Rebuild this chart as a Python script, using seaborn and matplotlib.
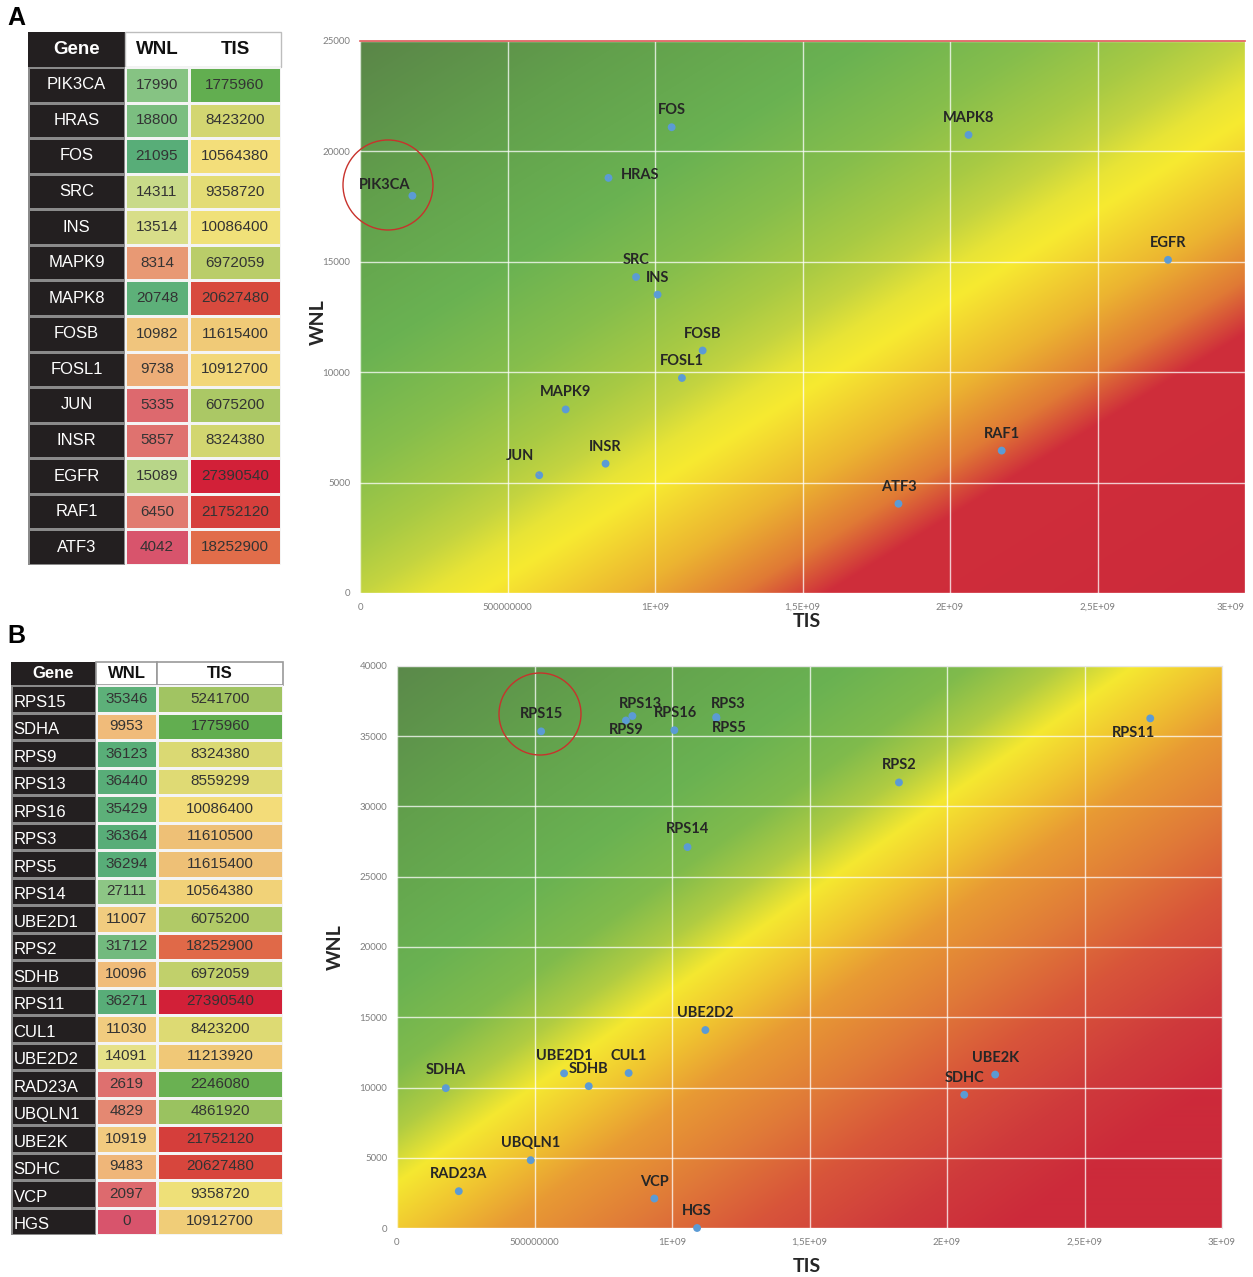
import numpy as np
import pandas as pd
import matplotlib
matplotlib.use("Agg")
import matplotlib.pyplot as plt
import matplotlib.colors as mcolors
from matplotlib.colors import LinearSegmentedColormap, TwoSlopeNorm, ListedColormap
from matplotlib.patches import Ellipse, Rectangle
import seaborn as sns

# ---------------- data ----------------
genes_a = ["PIK3CA", "HRAS", "FOS", "SRC", "INS", "MAPK9", "MAPK8", "FOSB",
           "FOSL1", "JUN", "INSR", "EGFR", "RAF1", "ATF3"]
wnl_a = [17990, 18800, 21095, 14311, 13514, 8314, 20748, 10982, 9738, 5335,
         5857, 15089, 6450, 4042]
tis_a = [1775960, 8423200, 10564380, 9358720, 10086400, 6972059, 20627480,
         11615400, 10912700, 6075200, 8324380, 27390540, 21752120, 18252900]

genes_b = ["RPS15", "SDHA", "RPS9", "RPS13", "RPS16", "RPS3", "RPS5", "RPS14",
           "UBE2D1", "RPS2", "SDHB", "RPS11", "CUL1", "UBE2D2", "RAD23A",
           "UBQLN1", "UBE2K", "SDHC", "VCP", "HGS"]
wnl_b = [35346, 9953, 36123, 36440, 35429, 36364, 36294, 27111, 11007, 31712,
         10096, 36271, 11030, 14091, 2619, 4829, 10919, 9483, 2097, 0]
tis_b = [5241700, 1775960, 8324380, 8559299, 10086400, 11610500, 11615400,
         10564380, 6075200, 18252900, 6972059, 27390540, 8423200, 11213920,
         2246080, 4861920, 21752120, 20627480, 9358720, 10912700]

TIS_AXIS_FACTOR = 100  # scatter x-axis shows TIS x 100

x_ticks = [0, 5e8, 1e9, 1.5e9, 2e9, 2.5e9, 3e9]
x_tick_labels = ["0", "500000000", "1E+09", "1,5E+09", "2E+09", "2,5E+09", "3E+09"]
y_ticks_a = [0, 5000, 10000, 15000, 20000, 25000]
y_ticks_b = [0, 5000, 10000, 15000, 20000, 25000, 30000, 35000, 40000]

# ---------------- styles / positions ----------------
plt.rcParams["font.family"] = ["Liberation Sans", "DejaVu Sans"]
W, H = 1253, 1277
fig = plt.figure(figsize=(W / 100, H / 100), dpi=100)


def fig_axes(left, top, right, bottom):
    return fig.add_axes([left / W, 1 - bottom / H, (right - left) / W, (bottom - top) / H])


wnl_cmap = LinearSegmentedColormap.from_list("wnl", [
    (0.0, "#d8546c"), (0.2, "#e48a72"), (0.40, "#f0bc7a"), (0.5, "#f2e488"),
    (0.72, "#a3d18a"), (1.0, "#58ad78")])
tis_cmap = LinearSegmentedColormap.from_list("tis", [
    (0.0, "#62ae50"), (0.5, "#f4e27a"), (0.555, "#eebf76"), (0.74, "#e06a48"),
    (0.82, "#d6423c"), (1.0, "#d22038")])


def draw_table(genes, wnl, tis, cols, top, hbot, bottom, gene_fs, val_fs, head_fs,
               left_align, head_split):
    n = len(genes)
    df = pd.DataFrame({"Gene": genes, "WNL": wnl, "TIS": tis})
    # header
    hax = fig_axes(cols[0], top, cols[3], hbot)
    hax.set_xlim(cols[0], cols[3])
    hax.set_ylim(hbot, top)
    hax.axis("off")
    hax.add_patch(Rectangle((cols[0], top), cols[1] - cols[0], hbot - top,
                            facecolor="#231f20", edgecolor="#231f20", lw=0))
    if head_split:
        for a, b in [(cols[1], cols[2]), (cols[2], cols[3])]:
            hax.add_patch(Rectangle((a, top), b - a, hbot - top, facecolor="white",
                                    edgecolor="#9a9a9a", lw=1.2, clip_on=False))
    else:
        hax.add_patch(Rectangle((cols[1], top), cols[3] - cols[1], hbot - top,
                                facecolor="white", edgecolor="#bdbdbd", lw=1, clip_on=False))
    yc = (top + hbot) / 2
    hax.text((cols[0] + cols[1]) / 2, yc, "Gene", color="white", fontweight="bold",
             fontsize=head_fs, ha="center", va="center")
    hax.text((cols[1] + cols[2]) / 2, yc, "WNL", color="#111111", fontweight="bold",
             fontsize=head_fs, ha="center", va="center")
    hax.text((cols[2] + cols[3]) / 2, yc, "TIS", color="#111111", fontweight="bold",
             fontsize=head_fs, ha="center", va="center")

    # gene column
    gax = fig_axes(cols[0], hbot, cols[1], bottom)
    sns.heatmap(np.zeros((n, 1)), cmap=ListedColormap(["#231f20"]), cbar=False,
                linewidths=1, linecolor="#8a8a8a", xticklabels=False, yticklabels=False, ax=gax)
    for i, g in enumerate(genes):
        if left_align:
            gax.text(0.03, i + 0.62, g, color="white", fontsize=gene_fs, ha="left", va="center")
        else:
            gax.text(0.5, i + 0.5, g, color="white", fontsize=gene_fs, ha="center", va="center")

    # value columns
    for col, cmap, (a, b) in [("WNL", wnl_cmap, (cols[1], cols[2])),
                              ("TIS", tis_cmap, (cols[2], cols[3]))]:
        vals = df[col]
        norm = TwoSlopeNorm(vmin=vals.min(), vcenter=float(vals.median()), vmax=vals.max())
        vax = fig_axes(a, hbot, b, bottom)
        sns.heatmap(df[[col]], cmap=cmap, norm=norm, annot=True, fmt="d", cbar=False,
                    linewidths=1, linecolor="#f4f4f4", xticklabels=False, yticklabels=False,
                    annot_kws=dict(color="#333333", fontsize=val_fs), ax=vax)


draw_table(genes_a, wnl_a, tis_a, [28, 125, 189, 281], 32, 67, 565,
           gene_fs=12, val_fs=11, head_fs=13.5, left_align=False, head_split=False)
draw_table(genes_b, wnl_b, tis_b, [11, 96, 157, 283], 662, 685, 1235,
           gene_fs=12, val_fs=11, head_fs=12, left_align=True, head_split=True)

# ---------------- scatter panels ----------------
grad_a = [(-470, "#5a8548"), (-330, "#62a04c"), (-200, "#6ab252"), (-110, "#86be4c"),
          (-40, "#a8ca44"), (0, "#c4d440"), (35, "#e8e436"), (63, "#f7ea30"),
          (140, "#ecb431"), (200, "#e07a35"), (245, "#cf2e3b"), (480, "#cc2a3a")]
grad_b = [(-470, "#5a874a"), (-330, "#62a04c"), (-200, "#6ab252"), (-130, "#80bb4c"),
          (-80, "#b0cc42"), (-37, "#f5e830"), (10, "#f0c430"), (60, "#e89a34"),
          (130, "#e07a38"), (200, "#d8553a"), (280, "#cf3a3c"), (350, "#cc2a3a"),
          (480, "#cc2a3a")]


def gradient_image(w_px, h_px, direction, stops):
    X, Y = np.meshgrid(np.arange(w_px) + 0.5, np.arange(h_px) + 0.5)
    p = direction[0] * X + direction[1] * Y
    pos = [s[0] for s in stops]
    cols = np.array([mcolors.to_rgb(s[1]) for s in stops])
    return np.stack([np.interp(p, pos, cols[:, k]) for k in range(3)], axis=-1)


label_offsets_a = {
    "PIK3CA": (-28, 11), "HRAS": (32, 3), "FOS": (0, 17), "SRC": (0, 17),
    "INS": (0, 17), "MAPK9": (0, 17), "MAPK8": (0, 17), "FOSB": (0, 17),
    "FOSL1": (0, 17), "JUN": (-19, 19), "INSR": (0, 17), "EGFR": (0, 17),
    "RAF1": (0, 17), "ATF3": (0, 17)}
label_offsets_b = {
    "RPS15": (0, 17), "SDHA": (0, 18), "RPS9": (0, -10), "RPS13": (8, 12),
    "RPS16": (1, 17), "RPS3": (12, 13), "RPS5": (13, -10), "RPS14": (0, 18),
    "UBE2D1": (0, 17), "RPS2": (0, 17), "SDHB": (0, 17), "RPS11": (-17, -15),
    "CUL1": (0, 17), "UBE2D2": (0, 17), "RAD23A": (0, 17), "UBQLN1": (0, 17),
    "UBE2K": (0, 17), "SDHC": (0, 17), "VCP": (0, 17), "HGS": (0, 17)}
leader_genes = {"HRAS", "JUN"}


def draw_scatter(box, genes, wnl, tis, ymax, yticks, stops, direction, offsets,
                 circle, xlab_pos, ylab_pos, top_spine):
    left, top, right, bottom = box
    ax = fig_axes(left, top, right, bottom)
    w_px, h_px = right - left, bottom - top
    img = gradient_image(w_px, h_px, direction, stops)
    ax.imshow(img, extent=(0, 3e9, 0, ymax), origin="lower", aspect="auto",
              interpolation="bilinear", zorder=0)
    df = pd.DataFrame({"gene": genes, "WNL": wnl,
                       "TIS_axis": np.array(tis, dtype=float) * TIS_AXIS_FACTOR})
    sns.scatterplot(data=df, x="TIS_axis", y="WNL", ax=ax, color="#5b9bd5", s=32,
                    edgecolor="none", zorder=4, clip_on=False, legend=False)
    ax.set_xlim(0, 3e9)
    ax.set_ylim(0, ymax)
    ax.set_xticks(x_ticks)
    ax.set_xticklabels(x_tick_labels)
    ax.set_yticks(yticks)
    ax.set_yticklabels([str(v) for v in yticks])
    ax.tick_params(length=0, labelsize=7, labelcolor="#7f7f7f", pad=7)
    for lab in ax.get_xticklabels() + ax.get_yticklabels():
        lab.set_family(["Lato", "DejaVu Sans"])
    if right > W - 20:
        ax.get_xticklabels()[-1].set_ha("right")
    ax.grid(True, color="white", alpha=0.75, lw=1)
    ax.set_axisbelow(True)
    ax.set_xlabel("")
    ax.set_ylabel("")
    for s in ["left", "right", "bottom"]:
        ax.spines[s].set_visible(False)
    if top_spine:
        ax.spines["top"].set_color("#e05a5a")
        ax.spines["top"].set_linewidth(1.2)
    else:
        ax.spines["top"].set_color("#e6e6e6")
        ax.spines["right"].set_visible(True)
        ax.spines["right"].set_color("#e6e6e6")
    for g, x, y in zip(df["gene"], df["TIS_axis"], df["WNL"]):
        dx, dy = offsets[g]
        kw = {}
        if g in leader_genes:
            kw["arrowprops"] = dict(arrowstyle="-", color="#9a9a9a", lw=0.6,
                                    shrinkA=7, shrinkB=3)
        ax.annotate(g, xy=(x, y), xytext=(dx, dy), textcoords="offset pixels",
                    ha="center", va="center", fontsize=10.5, fontweight="bold",
                    family=["Lato", "DejaVu Sans"], color="#262626", zorder=5, **kw)
    # highlight circle (pixel centre / radius)
    cx, cy, r = circle
    xd = (cx - left) / w_px * 3e9
    yd = (bottom - cy) / h_px * ymax
    ax.add_patch(Ellipse((xd, yd), 2 * r / w_px * 3e9, 2 * r / h_px * ymax,
                         facecolor="none", edgecolor="#c8322c", lw=1.0,
                         zorder=6, clip_on=False))
    ax.text(xlab_pos[0], xlab_pos[1], "TIS", transform=ax.transAxes, ha="center",
            va="center", fontsize=14, fontweight="bold", color="#262626",
            family=["Lato", "DejaVu Sans"])
    ax.text(ylab_pos[0], ylab_pos[1], "WNL", transform=ax.transAxes, ha="center",
            va="center", rotation=90, fontsize=14, fontweight="bold", color="#262626",
            family=["Lato", "DejaVu Sans"])
    return ax


dir_a = (0.527, -0.85)
dir_b = (0.573, -0.819)
draw_scatter((360, 41, 1245, 593), genes_a, wnl_a, tis_a, 25000, y_ticks_a, grad_a, dir_a,
             label_offsets_a, (388, 185, 45), (0.505, -0.052), (-0.0475, 0.491), True)
draw_scatter((397, 666, 1222, 1228), genes_b, wnl_b, tis_b, 40000, y_ticks_b, grad_b, dir_b,
             label_offsets_b, (540, 714, 41), (0.497, -0.069), (-0.075, 0.5), False)

fig.text(16 / W, 1 - 18 / H, "A", fontsize=18, fontweight="bold", ha="center", va="center")
fig.text(16 / W, 1 - 636 / H, "B", fontsize=18, fontweight="bold", ha="center", va="center")

fig.savefig("out.png", dpi=100, facecolor="white")
